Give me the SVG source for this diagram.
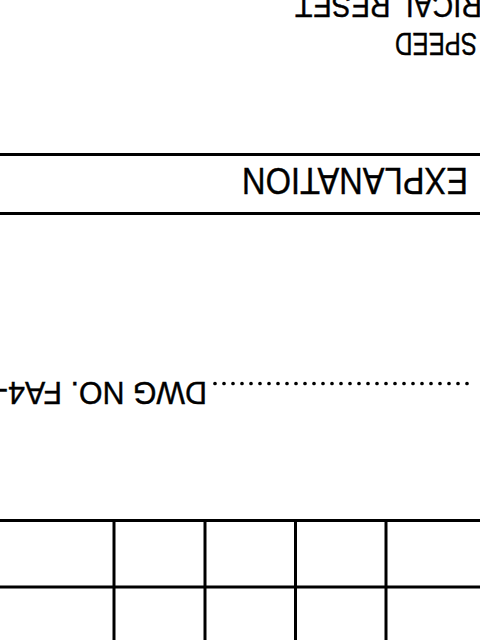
<svg xmlns="http://www.w3.org/2000/svg" width="480" height="640" viewBox="0 0 480 640">
  <style>
    .ln { stroke: #000; stroke-width: 3; fill: none; }
    .t { font-family: "Liberation Sans", Arial, sans-serif; fill: #000; stroke: #000; stroke-width: 0.4; }
  </style>
  <rect width="480" height="640" fill="#fff"/>
  <g id="rules">
    <line class="ln" x1="0" y1="154.5" x2="480" y2="154.5"/>
    <line class="ln" x1="0" y1="213.5" x2="480" y2="213.5"/>
  </g>
  <g id="table">
    <line class="ln" x1="0" y1="520.5" x2="480" y2="520.5"/>
    <line class="ln" x1="0" y1="587" x2="480" y2="587"/>
    <line class="ln" x1="114" y1="520.5" x2="114" y2="640"/>
    <line class="ln" x1="205" y1="520.5" x2="205" y2="640"/>
    <line class="ln" x1="295.5" y1="520.5" x2="295.5" y2="640"/>
    <line class="ln" x1="386" y1="520.5" x2="386" y2="640"/>
  </g>
  <g id="leader">
    <line x1="215" y1="383.5" x2="476" y2="383.5" stroke="#000" stroke-width="3.7" stroke-linecap="round" stroke-dasharray="0 9"/>
  </g>
  <g id="texts" transform="rotate(180 240 320)">
    <text class="t" x="-2" y="645" font-size="31" textLength="187" lengthAdjust="spacingAndGlyphs">RICAL RESET</text>
    <text class="t" x="3" y="607" font-size="31" textLength="82" lengthAdjust="spacingAndGlyphs">SPEED</text>
    <text class="t" x="12" y="472" font-size="37.5" textLength="226" lengthAdjust="spacingAndGlyphs">EXPLANATION</text>
    <text class="t" x="273" y="258" font-size="31" textLength="209" lengthAdjust="spacingAndGlyphs">DWG NO. FA4-</text>
  </g>
</svg>
